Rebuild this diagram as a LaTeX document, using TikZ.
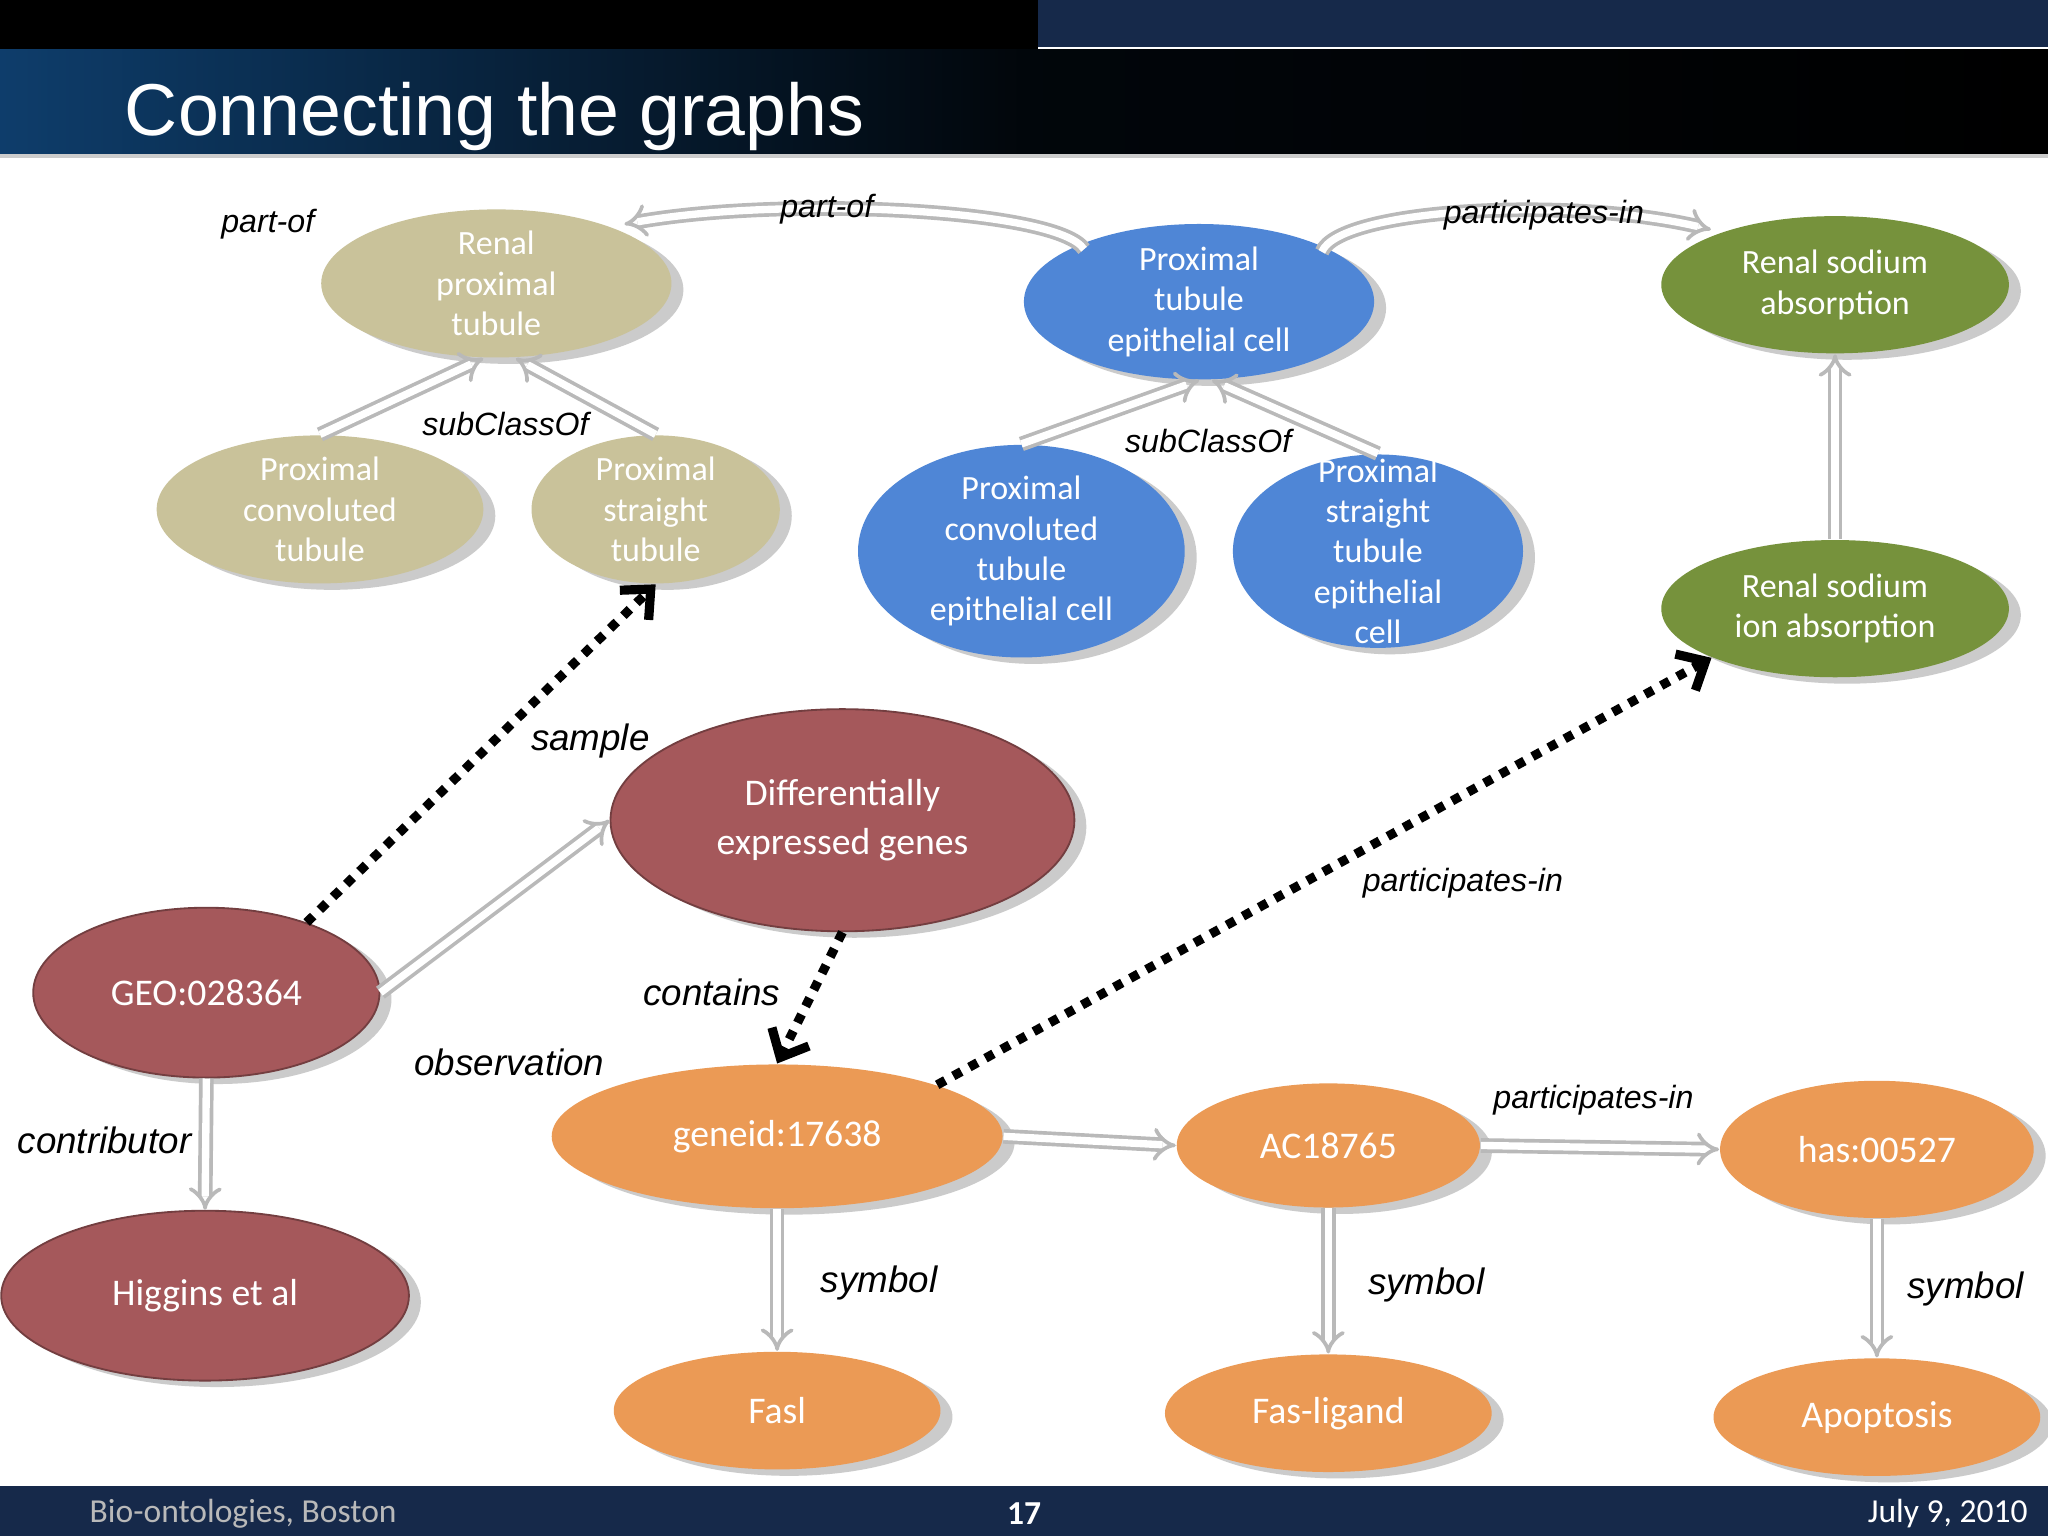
\documentclass[tikz,border=0pt]{standalone}
\usepackage{fontspec}
\setmainfont{Carlito}
\newfontfamily\arialf{Liberation Sans}
\usetikzlibrary{shapes.geometric,arrows.meta,shadows}
\definecolor{tan}{HTML}{C9C29A}
\definecolor{blu}{HTML}{4F86D6}
\definecolor{grn}{HTML}{76923C}
\definecolor{redd}{HTML}{A5585B}
\definecolor{orn}{HTML}{EB9A55}
\definecolor{navy}{HTML}{16294A}
\definecolor{tblue}{HTML}{0E3D6B}
\begin{document}
\begin{tikzpicture}[x=0.01cm,y=-0.01cm,
 el/.style={ellipse,inner sep=0pt,align=center,text=white,font=\fontsize{7.4}{8.8}\selectfont,
   drop shadow={shadow xshift=2.6pt,shadow yshift=-1.4pt,fill=gray!45,opacity=.9}},
 lab/.style={font=\arialf\itshape\fontsize{7}{8}\selectfont},
 dbl/.style={draw=gray!55,double=white,double distance=1.6pt,line width=0.8pt,-{Implies}},
 dot/.style={dotted,line width=2pt,-{Straight Barb[length=5pt,width=9pt]}}]
\useasboundingbox (0,0) rectangle (1568,1176);
\fill[white] (0,0) rectangle (1568,1176);
\fill[black] (0,0) rectangle (795,38);
\fill[navy] (795,0) rectangle (1568,36);
\shade[left color=tblue,right color=black,middle color=black!90!tblue] (0,38) rectangle (1568,118);
\fill[gray!40] (0,118) rectangle (1568,121);
\node[anchor=base west,text=white,font=\arialf\fontsize{16}{19}\selectfont,inner sep=0pt] (title) at (95,104) {Connecting the graphs};
\fill[navy] (0,1138) rectangle (1568,1176);
\node[anchor=west,text=gray!55,font=\fontsize{7.3}{8}\selectfont,inner sep=0pt] (ft1) at (68,1159) {Bio-ontologies, Boston};
\node[text=white,font=\bfseries\fontsize{7.3}{8}\selectfont] (ft2) at (784,1159) {17};
\node[anchor=east,text=white,font=\fontsize{7.3}{8}\selectfont,inner sep=0pt] (ft3) at (1553,1159) {July 9, 2010};

% nodes
\node[el,fill=tan,minimum width=2.68cm,minimum height=1.05cm] (RPT) at (380,217) {Renal\\proximal\\tubule};
\node[el,fill=tan,minimum width=2.5cm,minimum height=1.05cm] (PCT) at (245,390) {Proximal\\convoluted\\tubule};
\node[el,fill=tan,minimum width=1.9cm,minimum height=1.05cm] (PST) at (502,390) {Proximal\\straight\\tubule};
\node[el,fill=blu,minimum width=2.68cm,minimum height=1.05cm] (PTEC) at (918,231) {Proximal\\tubule\\epithelial cell};
\node[el,fill=blu,minimum width=2.5cm,minimum height=1.48cm] (PCTEC) at (782,422) {Proximal\\convoluted\\tubule\\epithelial cell};
\node[el,fill=blu,minimum width=2.22cm,minimum height=1.48cm,inner sep=-12pt] (PSTEC) at (1055,422) {Proximal\\straight\\tubule\\epithelial\\cell};
\node[el,fill=grn,minimum width=2.66cm,minimum height=1.05cm] (RSA) at (1405,218) {Renal sodium\\absorption};
\node[el,fill=grn,minimum width=2.66cm,minimum height=1.05cm] (RSIA) at (1405,466) {Renal sodium\\ion absorption};
\node[el,fill=redd,draw=redd!70!black,minimum width=3.55cm,minimum height=1.7cm,font=\fontsize{8.2}{10.5}\selectfont] (DEG) at (645,628) {Differentially\\expressed genes};
\node[el,fill=redd,draw=redd!70!black,minimum width=2.65cm,minimum height=1.3cm,font=\fontsize{8.2}{10}\selectfont] (GEO) at (158,760) {GEO:028364};
\node[el,fill=redd,draw=redd!70!black,minimum width=3.12cm,minimum height=1.3cm,font=\fontsize{8.2}{10}\selectfont] (HIG) at (157,992) {Higgins et al};
\node[el,fill=orn,minimum width=3.45cm,minimum height=1.1cm,font=\fontsize{8.2}{10}\selectfont] (GEN) at (595,870) {geneid:17638};
\node[el,fill=orn,minimum width=2.32cm,minimum height=0.95cm,font=\fontsize{8.2}{10}\selectfont] (AC) at (1017,877) {AC18765};
\node[el,fill=orn,minimum width=2.4cm,minimum height=1.05cm,font=\fontsize{8.2}{10}\selectfont] (HAS) at (1437,880) {has:00527};
\node[el,fill=orn,minimum width=2.5cm,minimum height=0.9cm,font=\fontsize{8.2}{10}\selectfont] (FASL) at (595,1080) {Fasl};
\node[el,fill=orn,minimum width=2.5cm,minimum height=0.9cm,font=\fontsize{8.2}{10}\selectfont] (FLIG) at (1017,1082) {Fas-ligand};
\node[el,fill=orn,minimum width=2.5cm,minimum height=0.9cm,font=\fontsize{8.2}{10}\selectfont] (APO) at (1437,1085) {Apoptosis};

% edges
\draw[dbl] (PCT.north) -- ([xshift=-0.1cm]RPT.south);
\draw[dbl] (PST.north) -- ([xshift=0.15cm]RPT.south);
\node[lab] (l1) at (387,325) {subClassOf};
\draw[dbl] ([xshift=-0.88cm,yshift=-0.2cm]PTEC.north) .. controls (810,160) and (600,150) .. ([xshift=0.98cm,yshift=-0.12cm]RPT.north);
\node[lab] (l2) at (633,160) {part-of};
\node[lab] (l3) at (205,172) {part-of};
\draw[dbl] (PCTEC.north) -- (PTEC.south);
\draw[dbl] (PSTEC.north) -- ([xshift=0.1cm]PTEC.south);
\node[lab] (l4) at (925,338) {subClassOf};
\draw[dbl] ([xshift=0.94cm,yshift=-0.22cm]PTEC.north) .. controls (1025,160) and (1200,150) .. ([xshift=-0.95cm,yshift=-0.11cm]RSA.north);
\node[lab] (l5) at (1182,165) {participates-in};
\draw[dbl] (RSIA.north) -- (RSA.south);
\draw[dot] (GEO.35) -- (PST.south);
\node[lab,font=\arialf\itshape\fontsize{8}{9}\selectfont] (l6) at (452,567) {sample};
\draw[dbl] (GEO.east) -- (DEG.west);
\node[lab,font=\arialf\itshape\fontsize{8}{9}\selectfont] (l7) at (390,813) {observation};
\draw[dot] (DEG.south) -- (GEN.north);
\node[lab,font=\arialf\itshape\fontsize{8}{9}\selectfont] (l8) at (545,760) {contains};
\draw[dot] (GEN.north east) -- (RSIA.south west);
\node[lab] (l9) at (1120,676) {participates-in};
\draw[dbl] (GEO.south) -- (HIG.north);
\node[lab,font=\arialf\itshape\fontsize{8}{9}\selectfont] (l10) at (80,873) {contributor};
\draw[dbl] (GEN.east) -- (AC.west);
\draw[dbl] (AC.east) -- (HAS.west);
\node[lab] (l11) at (1220,842) {participates-in};
\draw[dbl] (GEN.south) -- (FASL.north);
\node[lab,font=\arialf\itshape\fontsize{8}{9}\selectfont] (l12) at (673,982) {symbol};
\draw[dbl] (AC.south) -- (FLIG.north);
\node[lab,font=\arialf\itshape\fontsize{8}{9}\selectfont] (l13) at (1092,984) {symbol};
\draw[dbl] (HAS.south) -- (APO.north);
\node[lab,font=\arialf\itshape\fontsize{8}{9}\selectfont] (l14) at (1505,987) {symbol};
\end{tikzpicture}
\end{document}
